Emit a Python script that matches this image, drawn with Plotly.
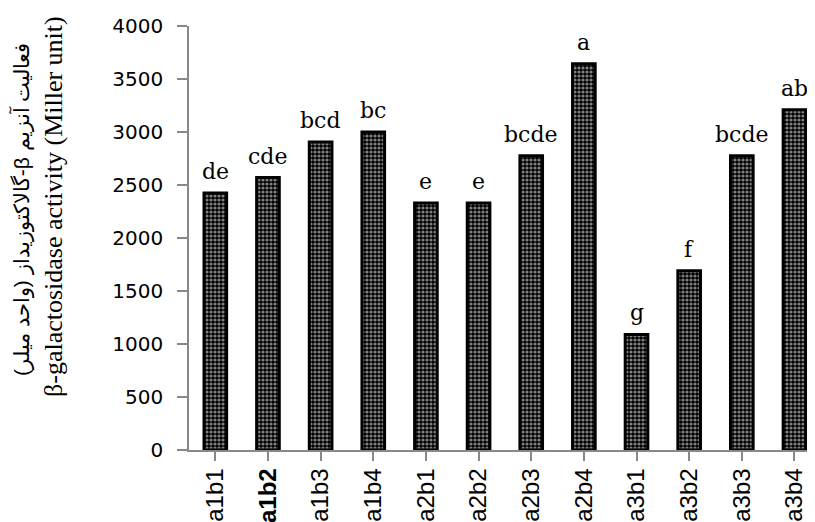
import plotly.graph_objects as go

categories = ["a1b1", "a1b2", "a1b3", "a1b4", "a2b1", "a2b2", "a2b3", "a2b4",
              "a3b1", "a3b2", "a3b3", "a3b4"]
tick_labels = ["a1b1", "<b>a1b2</b>", "a1b3", "a1b4", "a2b1", "a2b2", "a2b3", "a2b4",
               "a3b1", "a3b2", "a3b3", "a3b4"]
values = [2425, 2570, 2905, 3000, 2330, 2330, 2775, 3645, 1090, 1690, 2775, 3210]
letters = ["de", "cde", "bcd", "bc", "e", "e", "bcde", "a", "g", "f", "bcde", "ab"]
y_ticks = [0, 500, 1000, 1500, 2000, 2500, 3000, 3500, 4000]

# page body has an 8px margin, so the figure sits at (8, 8) in the window
W, H = 807, 514
L, T, B = 181, 18, 72
PW = W - L
PH = H - T - B

fig = go.Figure()
fig.add_trace(go.Bar(
    x=list(range(len(categories))),
    y=values,
    width=0.43,
    marker=dict(
        color="black",
        line=dict(color="black", width=3),
        pattern=dict(shape=".", size=4, solidity=0.5, fgcolor="white", bgcolor="black"),
    ),
    showlegend=False,
))

for i, (v, t) in enumerate(zip(values, letters)):
    fig.add_annotation(
        x=i, y=v, text=t, showarrow=False, yanchor="bottom", yshift=7,
        font=dict(family="DejaVu Serif", size=22, color="black"),
    )

fig.add_annotation(
    xref="paper", yref="paper", x=-168 / PW, y=(442 - 202) / PH,
    text="\u202bفعالیت آنزیم β-گالاکتوزیداز (واحد میلر)\u202c", textangle=-90, showarrow=False,
    xanchor="center", yanchor="middle",
    font=dict(family="Liberation Sans", size=21, color="black"),
)
fig.add_annotation(
    xref="paper", yref="paper", x=-136 / PW, y=(442 - 199) / PH,
    text="β-galactosidase activity (Miller unit)", textangle=-90, showarrow=False,
    xanchor="center", yanchor="middle",
    font=dict(family="Liberation Serif", size=26, color="black"),
)

fig.update_layout(
    width=W, height=H,
    margin=dict(l=L, r=0, t=T, b=B, autoexpand=False),
    plot_bgcolor="white", paper_bgcolor="white",
    xaxis=dict(
        range=[-0.5, 11.39],
        tickmode="array",
        tickvals=list(range(len(categories))),
        ticktext=tick_labels,
        tickson="boundaries",
        ticks="outside", ticklen=9, tickcolor="#888888", tickwidth=1.5,
        showline=True, linecolor="#888888", linewidth=1.5,
        showgrid=False, zeroline=False,
        tickangle=-90,
        automargin=False,
        ticklabelstandoff=-2,
        tickfont=dict(family="Liberation Sans", size=24, color="black"),
    ),
    yaxis=dict(
        range=[0, 4000],
        tickmode="array", tickvals=y_ticks,
        ticks="outside", ticklen=10, tickcolor="#888888", tickwidth=1.5,
        showline=True, linecolor="#888888", linewidth=1.5,
        showgrid=False, zeroline=False,
        automargin=False,
        ticklabelstandoff=10,
        tickfont=dict(family="DejaVu Sans", size=20, color="black"),
    ),
)

fig.write_html("out.html")
